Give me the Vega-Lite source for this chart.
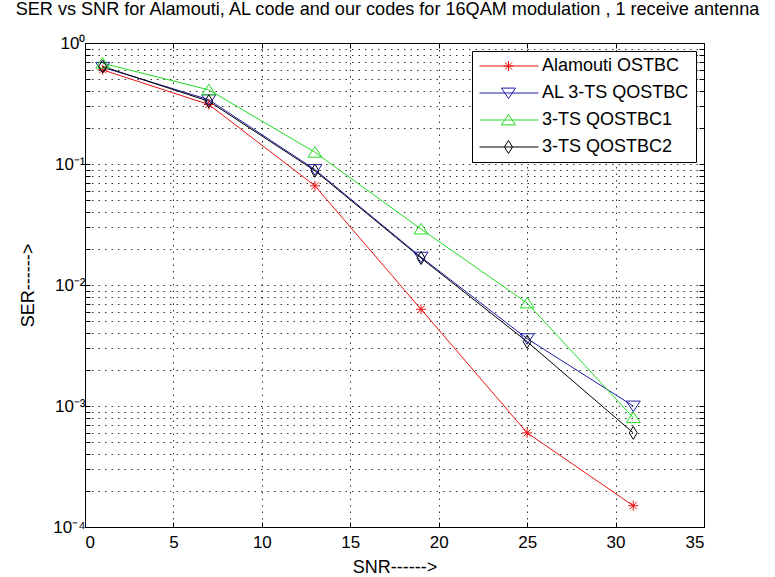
{
  "$schema": "https://vega.github.io/schema/vega-lite/v6.json",
  "width": 619,
  "height": 484,
  "autosize": {"type": "none"},
  "padding": {"left": 85, "top": 43, "right": 71, "bottom": 50},
  "background": "white",
  "title": {
    "text": "SER vs SNR for Alamouti, AL code and our codes for 16QAM modulation , 1 receive antenna",
    "frame": "group",
    "anchor": "middle",
    "dx": -7,
    "offset": -3,
    "baseline": "bottom",
    "font": "Liberation Sans",
    "fontSize": 18.1,
    "fontWeight": "normal",
    "color": "#000"
  },
  "config": {
    "view": {"stroke": "#000", "strokeWidth": 1},
    "font": "Liberation Sans",
    "axis": {
      "labelFont": "Liberation Sans",
      "titleFont": "Liberation Sans",
      "labelColor": "#000",
      "titleColor": "#000",
      "titleFontWeight": "normal",
      "domainColor": "#000",
      "tickColor": "#000",
      "gridColor": "#111",
      "gridDash": [1.5, 5],
      "gridWidth": 1,
      "gridOpacity": 0.85
    }
  },
  "data": {
    "values": [
      {"snr": 1, "ser": 0.6, "code": "Alamouti OSTBC"},
      {"snr": 7, "ser": 0.31, "code": "Alamouti OSTBC"},
      {"snr": 13, "ser": 0.066, "code": "Alamouti OSTBC"},
      {"snr": 19, "ser": 0.0063, "code": "Alamouti OSTBC"},
      {"snr": 25, "ser": 0.0006, "code": "Alamouti OSTBC"},
      {"snr": 31, "ser": 0.00015, "code": "Alamouti OSTBC"},
      {"snr": 1, "ser": 0.63, "code": "AL 3-TS QOSTBC"},
      {"snr": 7, "ser": 0.34, "code": "AL 3-TS QOSTBC"},
      {"snr": 13, "ser": 0.09, "code": "AL 3-TS QOSTBC"},
      {"snr": 19, "ser": 0.017, "code": "AL 3-TS QOSTBC"},
      {"snr": 25, "ser": 0.0036, "code": "AL 3-TS QOSTBC"},
      {"snr": 31, "ser": 0.001, "code": "AL 3-TS QOSTBC"},
      {"snr": 1, "ser": 0.68, "code": "3-TS QOSTBC1"},
      {"snr": 7, "ser": 0.41, "code": "3-TS QOSTBC1"},
      {"snr": 13, "ser": 0.125, "code": "3-TS QOSTBC1"},
      {"snr": 19, "ser": 0.029, "code": "3-TS QOSTBC1"},
      {"snr": 25, "ser": 0.0071, "code": "3-TS QOSTBC1"},
      {"snr": 31, "ser": 0.0008, "code": "3-TS QOSTBC1"},
      {"snr": 1, "ser": 0.64, "code": "3-TS QOSTBC2"},
      {"snr": 7, "ser": 0.33, "code": "3-TS QOSTBC2"},
      {"snr": 13, "ser": 0.088, "code": "3-TS QOSTBC2"},
      {"snr": 19, "ser": 0.0167, "code": "3-TS QOSTBC2"},
      {"snr": 25, "ser": 0.0034, "code": "3-TS QOSTBC2"},
      {"snr": 31, "ser": 0.0006, "code": "3-TS QOSTBC2"}
    ]
  },
  "layer": [
    {
      "mark": {"type": "line", "strokeWidth": 1},
      "encoding": {
        "x": {
          "field": "snr",
          "type": "quantitative",
          "scale": {"domain": [0, 35], "nice": false, "zero": false},
          "axis": {
            "orient": "bottom",
            "values": [0, 5, 10, 15, 20, 25, 30, 35],
            "grid": true,
            "tickSize": -5,
            "labelPadding": 12,
            "labelFontSize": 17,
            "title": "SNR------>",
            "titleFontSize": 18,
            "titlePadding": 8,
            "domain": true
          }
        },
        "y": {
          "field": "ser",
          "type": "quantitative",
          "scale": {"type": "log", "domain": [0.0001, 1], "nice": false},
          "axis": {
            "orient": "left",
            "values": [0.0001, 0.0002, 0.0003, 0.0004, 0.0005, 0.0006, 0.0007, 0.0008, 0.0009, 0.001, 0.002, 0.003, 0.004, 0.005, 0.006, 0.007, 0.008, 0.009, 0.01, 0.02, 0.03, 0.04, 0.05, 0.06, 0.07, 0.08, 0.09, 0.1, 0.2, 0.3, 0.4, 0.5, 0.6, 0.7, 0.8, 0.9, 1],
            "labelExpr": "datum.value == 1 ? '10⁰' : datum.value == 0.1 ? '10⁻¹' : datum.value == 0.01 ? '10⁻²' : datum.value == 0.001 ? '10⁻³' : datum.value == 0.0001 ? '10⁻⁴' : ''",
            "grid": true,
            "tickSize": -5,
            "labelPadding": 5,
            "labelFontSize": 17,
            "labelOverlap": false,
            "labelFlush": false,
            "title": "SER------>",
            "titleFontSize": 18,
            "titlePadding": 15
          }
        },
        "color": {
          "field": "code",
          "type": "nominal",
          "scale": {
            "domain": ["Alamouti OSTBC", "AL 3-TS QOSTBC", "3-TS QOSTBC1", "3-TS QOSTBC2"],
            "range": ["#ee1111", "#1c1ca8", "#22dd22", "#000000"]
          },
          "legend": {
            "title": null,
            "orient": "top-right",
            "offset": 8,
            "padding": 6,
            "strokeColor": "#000",
            "fillColor": "#fff",
            "cornerRadius": 0,
            "labelFont": "Liberation Sans",
            "labelFontSize": 18,
            "labelColor": "#000",
            "labelOffset": 46,
            "symbolSize": 196,
            "symbolStrokeWidth": 1,
            "rowPadding": 9,
            "encode": {
              "symbols": {
                "update": {
                  "fill": {"value": "transparent"},
                  "strokeWidth": {"value": 1},
                  "shape": {
                    "signal": "datum.value == 'Alamouti OSTBC' ? 'M-1.07,0H7.36M2.35,0H3.79M3.07,-0.72V0.72M2.56,-0.51L3.58,0.51M2.56,0.51L3.58,-0.51' : datum.value == 'AL 3-TS QOSTBC' ? 'M-1.07,0H7.36M2.07,-0.7H4.07L3.07,0.8Z' : datum.value == '3-TS QOSTBC1' ? 'M-1.07,0H7.36M2.07,0.7H4.07L3.07,-0.8Z' : 'M-1.07,0H7.36M3.07,-0.93L3.64,0L3.07,0.93L2.5,0Z'"
                  }
                }
              }
            }
          }
        }
      }
    },
    {
      "transform": [{"filter": "datum.code == 'Alamouti OSTBC'"}],
      "mark": {"type": "point", "filled": false, "strokeWidth": 1, "size": 196, "opacity": 1, "color": "#ee1111", "shape": "M-0.72,0H0.72M0,-0.72V0.72M-0.51,-0.51L0.51,0.51M-0.51,0.51L0.51,-0.51"},
      "encoding": {
        "x": {
          "field": "snr",
          "type": "quantitative",
          "axis": {
            "orient": "top",
            "values": [0, 5, 10, 15, 20, 25, 30, 35],
            "grid": false,
            "labels": false,
            "domain": false,
            "tickSize": -5,
            "title": null
          }
        },
        "y": {
          "field": "ser",
          "type": "quantitative",
          "axis": {
            "orient": "right",
            "values": [0.0001, 0.0002, 0.0003, 0.0004, 0.0005, 0.0006, 0.0007, 0.0008, 0.0009, 0.001, 0.002, 0.003, 0.004, 0.005, 0.006, 0.007, 0.008, 0.009, 0.01, 0.02, 0.03, 0.04, 0.05, 0.06, 0.07, 0.08, 0.09, 0.1, 0.2, 0.3, 0.4, 0.5, 0.6, 0.7, 0.8, 0.9, 1],
            "grid": false,
            "labels": false,
            "domain": false,
            "tickSize": -5,
            "title": null
          }
        }
      }
    },
    {
      "transform": [{"filter": "datum.code == 'AL 3-TS QOSTBC'"}],
      "mark": {"type": "point", "filled": false, "strokeWidth": 1, "size": 196, "opacity": 1, "color": "#1c1ca8", "shape": "M-1,-0.7H1L0,0.8Z"},
      "encoding": {
        "x": {"field": "snr", "type": "quantitative", "axis": null},
        "y": {"field": "ser", "type": "quantitative", "axis": null}
      }
    },
    {
      "transform": [{"filter": "datum.code == '3-TS QOSTBC1'"}],
      "mark": {"type": "point", "filled": false, "strokeWidth": 1, "size": 196, "opacity": 1, "color": "#22dd22", "shape": "M-1,0.7H1L0,-0.8Z"},
      "encoding": {
        "x": {"field": "snr", "type": "quantitative", "axis": null},
        "y": {"field": "ser", "type": "quantitative", "axis": null}
      }
    },
    {
      "transform": [{"filter": "datum.code == '3-TS QOSTBC2'"}],
      "mark": {"type": "point", "filled": false, "strokeWidth": 1, "size": 196, "opacity": 1, "color": "#000000", "shape": "M0,-0.93L0.57,0L0,0.93L-0.57,0Z"},
      "encoding": {
        "x": {"field": "snr", "type": "quantitative", "axis": null},
        "y": {"field": "ser", "type": "quantitative", "axis": null}
      }
    }
  ],
  "resolve": {"axis": {"x": "independent", "y": "independent"}}
}
